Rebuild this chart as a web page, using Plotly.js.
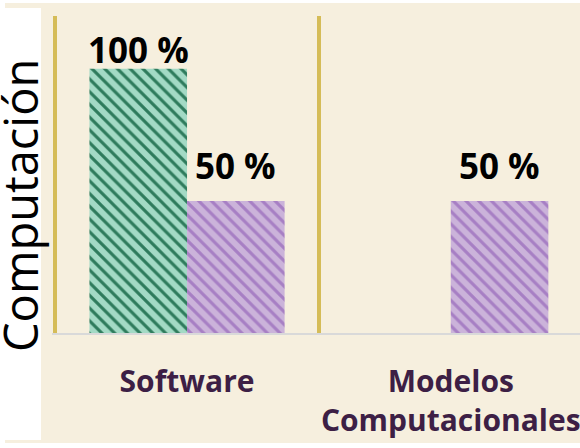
<!DOCTYPE html>
<html>
<head>
<meta charset="utf-8">
<script src="https://cdn.plot.ly/plotly-3.0.1.min.js"></script>
<style>
  html, body { margin: 0; padding: 0; background: #ffffff; }
  #grafica { width: 580px; height: 448px; }
</style>
</head>
<body>
<div id="grafica"></div>
<script>
// Datos
const categorias = ['Software', 'Modelos<br>Computacionales'];
const valoresVerde = [100, null];
const valoresMorado = [50, 50];
const tituloY = 'Computación';

// Tamaño y márgenes
const W = 580, H = 448;
const M = { l: 52, r: 0, t: 16, b: 115 };
const pxX = p => (p - M.l) / (W - M.l - M.r);
const pxY = p => (H - M.b - p) / (H - M.t - M.b);

const BARGAP = 0.26;
const fuenteBold = { family: 'Open Sans, Noto Sans, sans-serif', weight: 'bold' };

function trazaBarra(vals, fondo, raya) {
    return {
        type: 'bar',
        x: categorias,
        y: vals,
        marker: {
            color: fondo,
            line: { width: 0 },
            pattern: { shape: '\\', fgcolor: raya, bgcolor: fondo, size: 9, solidity: 0.35, fillmode: 'replace' }
        },
        hoverinfo: 'skip'
    };
}

const trazas = [
    trazaBarra(valoresVerde, '#a3dac5', '#2e7b5c'),
    trazaBarra(valoresMorado, '#cbb3da', '#a77fc4')
];

// Etiquetas de valor sobre cada barra (en coordenadas de datos)
const series = [valoresVerde, valoresMorado];
const desplazY = [-6, 10];
const anchoBarra = (1 - BARGAP) / series.length;
const etiquetas = [];
series.forEach((vals, i) => {
    vals.forEach((v, j) => {
        if (v === null) return;
        etiquetas.push({
            text: v + ' %',
            xref: 'x', yref: 'y',
            x: j - (1 - BARGAP) / 2 + anchoBarra * (i + 0.5),
            y: v,
            xanchor: 'center', yanchor: 'bottom',
            yshift: desplazY[i],
            showarrow: false,
            font: { ...fuenteBold, size: 35, color: '#000000' }
        });
    });
});

const layout = {
    width: W,
    height: H,
    margin: M,
    barmode: 'group',
    bargap: BARGAP,
    bargroupgap: 0,
    showlegend: false,
    paper_bgcolor: '#ffffff',
    plot_bgcolor: 'rgba(0,0,0,0)',
    xaxis: {
        type: 'category',
        range: [-0.512, 1.49],
        tickson: 'boundaries',
        showgrid: true,
        gridcolor: '#d5bc58',
        gridwidth: 4,
        ticks: '',
        tickangle: 0,
        showline: true,
        linecolor: '#d9d9d9',
        linewidth: 2,
        ticklabelstandoff: 21,
        tickfont: { ...fuenteBold, size: 30, color: '#3d1f45' },
        fixedrange: true
    },
    yaxis: {
        range: [0, 120],
        showgrid: false,
        zeroline: false,
        showline: false,
        showticklabels: false,
        ticks: '',
        fixedrange: true
    },
    shapes: [
        // fondo crema
        { type: 'rect', xref: 'paper', yref: 'paper', layer: 'below',
          x0: pxX(5), x1: pxX(580), y0: pxY(443), y1: pxY(3),
          fillcolor: '#f6efde', line: { width: 0 } },
        // caja blanca del título del eje
        { type: 'rect', xref: 'paper', yref: 'paper', layer: 'below',
          x0: pxX(0), x1: pxX(41), y0: pxY(440), y1: pxY(8),
          fillcolor: '#ffffff', line: { width: 0 } }
    ],
    annotations: [
        { text: tituloY, xref: 'paper', yref: 'paper',
          x: pxX(20), y: pxY(206), xanchor: 'center', yanchor: 'middle',
          textangle: -90, showarrow: false,
          font: { family: 'Open Sans, Noto Sans, sans-serif', size: 47, weight: 500, color: '#000000' } }
    ].concat(etiquetas)
};

Plotly.newPlot('grafica', trazas, layout, { displayModeBar: false, staticPlot: true });
</script>
</body>
</html>
